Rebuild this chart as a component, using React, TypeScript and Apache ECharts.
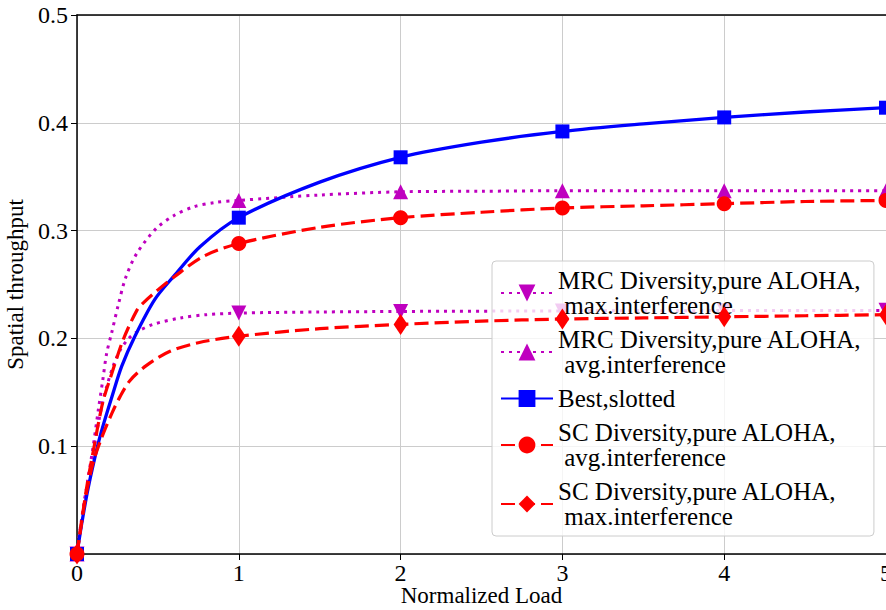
import React, { useEffect, useRef } from "react";
import * as echarts from "echarts";

// Normalized load (x) and spatial throughput (y) readings
const mrcMax: [number, number][] = [
  [0, 0], [0.02, 0.024], [0.06, 0.062], [0.11, 0.103], [0.153, 0.137], [0.183, 0.155],
  [0.225, 0.175], [0.27, 0.19], [0.32, 0.2], [0.37, 0.206], [0.47, 0.213], [0.64, 0.219],
  [0.8, 0.222], [1, 0.2235], [1.5, 0.2245], [2, 0.225], [3, 0.2255], [4, 0.2258], [5, 0.226],
];
const mrcAvg: [number, number][] = [
  [0, 0], [0.06, 0.062], [0.1, 0.1], [0.132, 0.134], [0.159, 0.161], [0.183, 0.186],
  [0.214, 0.205], [0.255, 0.231], [0.3, 0.256], [0.37, 0.279], [0.49, 0.302], [0.6, 0.314],
  [0.72, 0.322], [0.85, 0.326], [1, 0.328], [1.5, 0.333], [2, 0.336], [2.5, 0.3365],
  [3, 0.337], [4, 0.337], [5, 0.337],
];
const bestSlotted: [number, number][] = [
  [0, 0], [0.029, 0.028], [0.07, 0.062], [0.132, 0.103], [0.163, 0.12], [0.214, 0.145],
  [0.276, 0.174], [0.358, 0.202], [0.48, 0.236], [0.6, 0.258], [0.76, 0.285],
  [1, 0.312], [1.5, 0.345], [2, 0.368], [2.5, 0.382], [3, 0.392], [3.5, 0.399], [4, 0.405],
  [4.5, 0.41], [5, 0.414],
];
const scAvg: [number, number][] = [
  [0, 0], [0.06, 0.062], [0.11, 0.103], [0.132, 0.121], [0.163, 0.143], [0.214, 0.167],
  [0.286, 0.199], [0.37, 0.226], [0.41, 0.233], [0.5, 0.245], [0.6, 0.257], [0.78, 0.276],
  [1, 0.288], [1.5, 0.303], [2, 0.312], [2.5, 0.317], [3, 0.321], [3.5, 0.323], [4, 0.325],
  [4.5, 0.327], [5, 0.328],
];
const scMax: [number, number][] = [
  [0, 0], [0.05, 0.05], [0.1, 0.085], [0.15, 0.107], [0.214, 0.13], [0.266, 0.146],
  [0.328, 0.161], [0.43, 0.175], [0.575, 0.188], [0.75, 0.196], [1, 0.202], [1.5, 0.209],
  [2, 0.213], [2.5, 0.216], [3, 0.218], [3.5, 0.219], [4, 0.22], [4.5, 0.221], [5, 0.222],
];

const markerX = [0, 1, 2, 3, 4, 5];
const xTickLabels = ["0", "1", "2", "3", "4", "5"];
const yTickLabels = ["", "0.1", "0.2", "0.3", "0.4", "0.5"];

const seriesNames = [
  "MRC Diversity,pure ALOHA,\n max.interference",
  "MRC Diversity,pure ALOHA,\n avg.interference",
  "Best,slotted",
  "SC Diversity,pure ALOHA,\n avg.interference",
  "SC Diversity,pure ALOHA,\n max.interference",
];

const FONT = "Liberation Serif";

function withMarkers(points: [number, number][]) {
  return points.map((p) =>
    markerX.includes(p[0]) ? { value: p } : { value: p, symbol: "none" }
  );
}

export default function App() {
  const ref = useRef<HTMLDivElement>(null);

  useEffect(() => {
    if (!ref.current) return;
    const chart = echarts.init(ref.current, null, { renderer: "svg" });
    const magenta = "#bf00bf";
    const red = "#ff0000";
    const blue = "#0000ff";
    const dotted = [3, 5];
    const dashed = [14, 6];
    const common = { type: "line", smooth: 0.3 };

    chart.setOption({
      animation: false,
      backgroundColor: "#ffffff",
      textStyle: { fontFamily: FONT },
      grid: {
        left: 77,
        right: 0,
        top: 15,
        bottom: 56,
        containLabel: false,
        outerBoundsMode: "none",
      },
      legend: {
        orient: "vertical",
        left: 492,
        top: 261,
        data: seriesNames,
        itemWidth: 52,
        itemHeight: 21,
        itemGap: 9,
        padding: [7, 12, 7, 8],
        backgroundColor: "rgba(255,255,255,0.8)",
        borderColor: "#cccccc",
        borderWidth: 1,
        borderRadius: 4,
        textStyle: { fontFamily: FONT, fontSize: 25, lineHeight: 25, color: "#000" },
      },
      xAxis: [
        {
          type: "value",
          min: 0,
          max: 5,
          interval: 1,
          name: "Normalized Load",
          nameLocation: "middle",
          nameGap: 30,
          nameMoveOverlap: false,
          nameTextStyle: { fontFamily: FONT, fontSize: 23, color: "#000" },
          axisLine: { show: true, lineStyle: { color: "#000", width: 1.5 } },
          axisTick: { show: true, length: 6, lineStyle: { color: "#000" } },
          axisLabel: {
            fontFamily: FONT,
            fontSize: 24,
            color: "#000",
            margin: 7,
            formatter: (v: number) => xTickLabels[Math.round(v)] ?? "",
          },
          splitLine: { show: true, lineStyle: { color: "#cccccc", width: 1 } },
        },
        {
          type: "value",
          position: "top",
          min: 0,
          max: 5,
          interval: 1,
          axisLine: { show: true, onZero: false, lineStyle: { color: "#000", width: 1.5 } },
          axisTick: { show: false },
          axisLabel: { show: false },
          splitLine: { show: false },
        },
      ],
      yAxis: {
        type: "value",
        min: 0,
        max: 0.5,
        interval: 0.1,
        name: "Spatial throughput",
        nameLocation: "middle",
        nameGap: 48,
        nameTextStyle: { fontFamily: FONT, fontSize: 23, color: "#000" },
        axisLine: { show: true, lineStyle: { color: "#000", width: 1.5 } },
        axisTick: { show: true, length: 6, lineStyle: { color: "#000" } },
        axisLabel: {
          fontFamily: FONT,
          fontSize: 24,
          color: "#000",
          margin: 9,
          formatter: (v: number) => yTickLabels[Math.round(v * 10)] ?? "",
        },
        splitLine: { show: true, lineStyle: { color: "#cccccc", width: 1 } },
      },
      series: [
        {
          ...common,
          name: seriesNames[0],
          data: withMarkers(mrcMax),
          symbol: "triangle",
          symbolRotate: 180,
          symbolSize: 15,
          itemStyle: { color: magenta },
          lineStyle: { color: magenta, width: 3, type: dotted },
          z: 2,
        },
        {
          ...common,
          name: seriesNames[1],
          data: withMarkers(mrcAvg),
          symbol: "triangle",
          symbolSize: 15,
          itemStyle: { color: magenta },
          lineStyle: { color: magenta, width: 3, type: dotted },
          z: 2,
        },
        {
          ...common,
          name: seriesNames[2],
          data: withMarkers(bestSlotted),
          symbol: "rect",
          symbolSize: 14,
          itemStyle: { color: blue },
          lineStyle: { color: blue, width: 3.3 },
          z: 3,
        },
        {
          ...common,
          name: seriesNames[3],
          data: withMarkers(scAvg),
          symbol: "circle",
          symbolSize: 15,
          itemStyle: { color: red },
          lineStyle: { color: red, width: 3.2, type: dashed },
          z: 4,
        },
        {
          ...common,
          name: seriesNames[4],
          data: withMarkers(scMax),
          symbol: "diamond",
          symbolSize: [14, 21],
          itemStyle: { color: red },
          lineStyle: { color: red, width: 3.2, type: dashed },
          z: 4,
        },
      ],
    });
    return () => chart.dispose();
  }, []);

  return <div ref={ref} style={{ width: 886, height: 610, position: "absolute", left: 0, top: 0 }} />;
}
